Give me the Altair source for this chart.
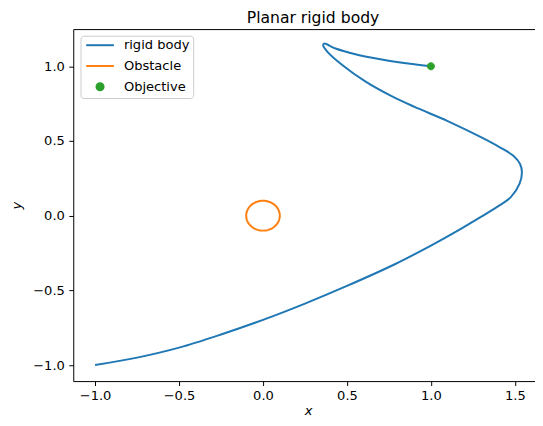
import altair as alt
import numpy as np
import pandas as pd

# ---- data ----
TRAJ_X = [-1.0, -0.75, -0.5, -0.25, 0.0, 0.25, 0.5, 0.785, 1.0, 1.168, 1.256,
          1.374, 1.476, 1.528, 1.542, 1.531, 1.491, 1.413, 1.295, 1.10, 0.903,
          0.766, 0.609, 0.472, 0.384, 0.358, 0.364, 0.432, 0.55, 0.707, 0.864, 1.0]
TRAJ_Y = [-1.0, -0.95, -0.883, -0.795, -0.697, -0.588, -0.47, -0.325, -0.2,
          -0.095, -0.036, 0.044, 0.124, 0.214, 0.291, 0.346, 0.401, 0.456, 0.527,
          0.633, 0.728, 0.80, 0.899, 1.009, 1.097, 1.141, 1.152, 1.119, 1.081,
          1.046, 1.019, 1.0]
OBSTACLE_CENTER = [0.0, 0.0]
OBSTACLE_RADIUS = 0.1
GOAL_X = [1.0]
GOAL_Y = [1.0]

SERIES = ["rigid body", "Obstacle", "Objective"]
COLORS = ["#1f77b4", "#ff7f0e", "#2ca02c"]
SHAPES = ["M-2.8,0H2.8", "M-2.8,0H2.8",
          "M-0.72,0A0.72,0.72,0,1,1,0.72,0A0.72,0.72,0,1,1,-0.72,0Z"]
X_TICKS = [-1.0, -0.5, 0.0, 0.5, 1.0, 1.5]
Y_TICKS = [-1.0, -0.5, 0.0, 0.5, 1.0]

traj = pd.DataFrame({"x": TRAJ_X, "y": TRAJ_Y, "i": list(range(len(TRAJ_X))),
                     "series": SERIES[0]})
ang = np.linspace(0, 2 * np.pi, 91)
obst = pd.DataFrame({"x": OBSTACLE_CENTER[0] + OBSTACLE_RADIUS * np.cos(ang),
                     "y": OBSTACLE_CENTER[1] + OBSTACLE_RADIUS * np.sin(ang),
                     "i": list(range(len(ang))), "series": SERIES[1]})
goal = pd.DataFrame({"x": GOAL_X, "y": GOAL_Y, "series": SERIES[2]})

FONT = "DejaVu Sans"
FS = 13.2

xscale = alt.Scale(domain=[-1.13, 1.667], nice=False, zero=False)
yscale = alt.Scale(domain=[-1.107, 1.249], nice=False, zero=False)

xaxis = alt.Axis(values=X_TICKS, format=".1f", title="x", titleFontStyle="italic",
                 titleBaseline="alphabetic", titleY=34)
yaxis = alt.Axis(values=Y_TICKS, format=".1f", title="y", titleFontStyle="italic",
                 titleBaseline="alphabetic", titleAngle=270, titleX=-53.5,
                 titleY=178)

X = alt.X("x:Q", scale=xscale, axis=xaxis)
Y = alt.Y("y:Q", scale=yscale, axis=yaxis)

legend = alt.Legend(title=None, orient="none", legendX=7.3, legendY=6.7,
                    labelFont=FONT, labelFontSize=FS, labelColor="black",
                    labelOffset=17.5, rowPadding=7, symbolOffset=10.2,
                    symbolStrokeWidth=2, symbolSize=100)


def color_enc():
    return alt.Color("series:N", scale=alt.Scale(domain=SERIES, range=COLORS),
                     legend=legend)


line_traj = alt.Chart(traj).mark_line(strokeWidth=2, interpolate="catmull-rom").encode(
    x=X, y=Y, order=alt.Order("i:Q"), color=color_enc())

line_obst = alt.Chart(obst).mark_line(strokeWidth=2).encode(
    x=X, y=Y, order=alt.Order("i:Q"), color=color_enc())

pt_goal = alt.Chart(goal).mark_point(filled=True, opacity=1, size=100, strokeWidth=1).encode(
    x=X, y=Y,
    color=color_enc(),
    stroke=alt.Stroke("series:N", scale=alt.Scale(domain=SERIES, range=COLORS), legend=legend),
    shape=alt.Shape("series:N", scale=alt.Scale(domain=SERIES, range=SHAPES), legend=legend))

chart = alt.layer(line_traj, line_obst, pt_goal).properties(
    width=475, height=356,
    background="white",
    title=alt.Title("Planar rigid body", font=FONT, fontSize=15.8, fontWeight="normal",
                    color="black", offset=2, dx=5),
    autosize=alt.AutoSizeParams(type="none"),
    padding={"left": 66, "top": 19, "right": -8, "bottom": 35},
).configure_view(stroke="black", strokeWidth=1).configure_axis(
    domain=False, grid=False, ticks=True, tickColor="black", tickWidth=1, tickSize=4.5,
    labelFont=FONT, labelFontSize=FS, labelColor="black", labelPadding=4.5,
    titleFont=FONT, titleFontSize=FS, titleColor="black", titleFontWeight="normal",
).configure_legend(
    fillColor="white", strokeColor="#cccccc", strokeWidth=1, cornerRadius=3, padding=3,
)

chart.save("out.html", embed_options={"renderer": "svg", "actions": False})
